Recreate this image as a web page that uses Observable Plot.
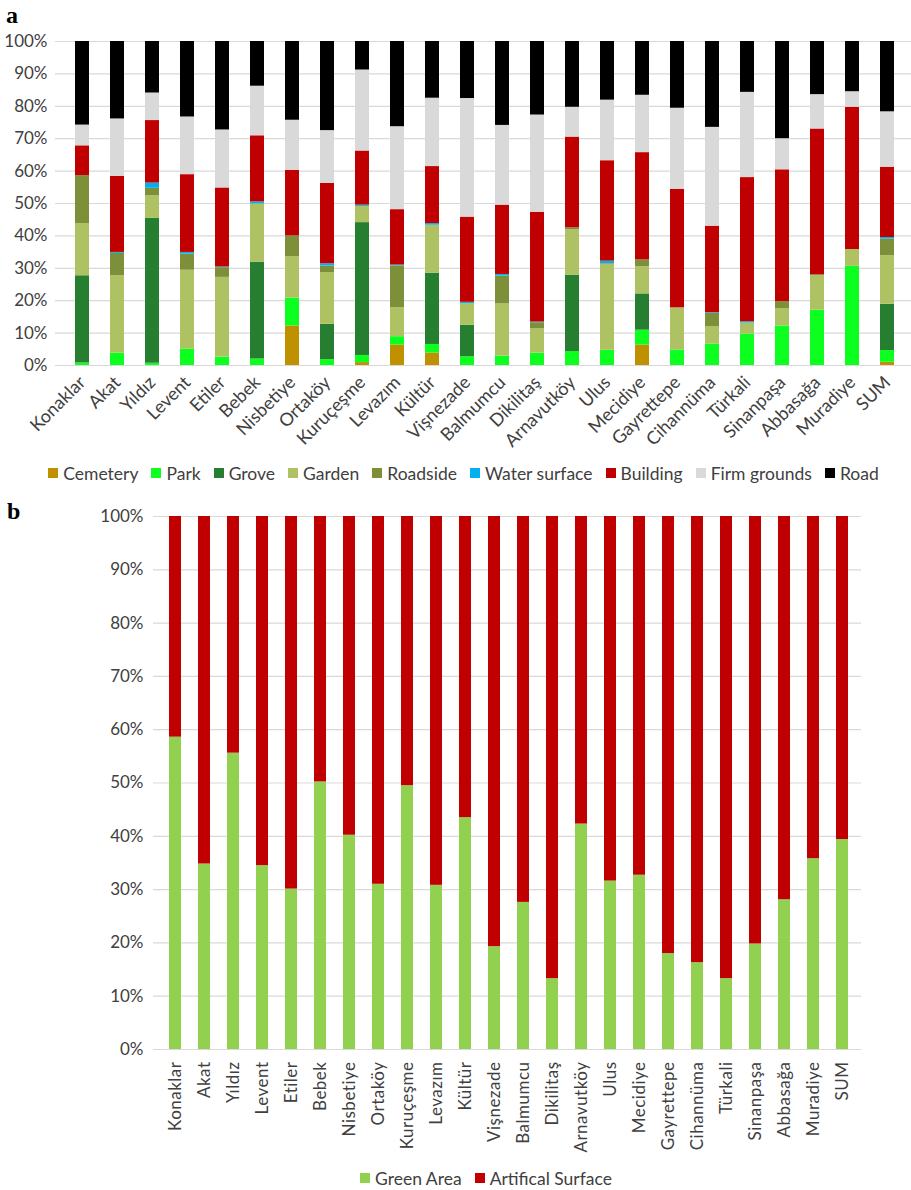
<!DOCTYPE html>
<html>
<head>
<meta charset="utf-8">
<script src="https://cdn.jsdelivr.net/npm/d3@7"></script>
<script src="https://cdn.jsdelivr.net/npm/@observablehq/plot@0.6"></script>
<style>
  html, body { margin: 0; padding: 0; background: #fff; }
  #page { position: relative; width: 911px; height: 1190px; font-family: Lato, "Liberation Sans", sans-serif; color: #404040; overflow: hidden; }
  .panel-label { position: absolute; font-family: "Liberation Serif", "DejaVu Serif", serif; font-weight: bold; font-size: 24px; color: #000; line-height: 1; }
  .legend { position: absolute; left: 0; display: flex; justify-content: center; align-items: center; font-size: 17.5px; color: #404040; white-space: nowrap; }
  .legend .item { display: flex; align-items: center; margin: 0 6.5px; }
  .legend .sw { width: 10px; height: 10px; margin-right: 5px; }
  .plotbox { position: absolute; left: 0; }
  .plotbox svg { overflow: visible; }
  #chartB .xlab text { letter-spacing: 0.5px; }
</style>
</head>
<body>
<div id="page">
  <div class="panel-label" style="left:6px; top:3px;">a</div>
  <div class="plotbox" id="chartA" style="top:0px;"></div>
  <div class="legend" id="legendA" style="top:463px; left:8px; width:911px; height:20px;"></div>
  <div class="panel-label" style="left:7px; top:499px;">b</div>
  <div class="plotbox" id="chartB" style="top:490px;"></div>
  <div class="legend" id="legendB" style="top:1168px; left:153px; width:666px; height:20px;"></div>
</div>
<script>
// ---- Data (percent of area) ----
const sites = ["Konaklar","Akat","Yıldız","Levent","Etiler","Bebek","Nisbetiye","Ortaköy","Kuruçeşme","Levazım","Kültür","Vişnezade","Balmumcu","Dikilitaş","Arnavutköy","Ulus","Mecidiye","Gayrettepe","Cihannüma","Türkali","Sinanpaşa","Abbasağa","Muradiye","SUM"];

const categories = ["Cemetery","Park","Grove","Garden","Roadside","Water surface","Building","Firm grounds","Road"];
const categoryColors = ["#BF9000","#0CFF1E","#267E30","#AFC263","#7E8F39","#00B0F0","#C00000","#D9D9D9","#000000"];

const cemetery     = [0,   0,   0,   0,   0,   0,   12.2,0,   0.9, 6.3, 3.8, 0,   0,   0,   0,   0,   6.3, 0,   0,   0,   0,   0,   0,   1.0];
const park         = [0.8, 3.8, 0.7, 5.1, 2.6, 2.0, 8.6, 1.8, 2.2, 2.6, 2.7, 2.7, 2.9, 3.8, 4.3, 4.7, 4.6, 4.8, 6.6, 9.7, 12.2,17.1,30.6,3.6];
const grove        = [26.9,0,   44.7,0,   0,   29.9,0,   10.9,41.0,0,   22.0,9.7, 0,   0,   23.6,0,   11.2,0,   0,   0,   0,   0,   0,   14.3];
const garden       = [16.1,23.9,7.0, 24.3,24.6,17.9,12.8,16.0,5.0, 8.9, 14.8,6.7, 16.1,7.5, 14.0,26.5,8.4, 13.0,5.4, 3.4, 5.4, 10.6,5.2, 15.0];
const roadside     = [14.8,6.9, 2.3, 5.0, 3.0, 0.1, 6.4, 2.0, 0,   12.9,0,   0,   8.6, 1.9, 0.6, 0.2, 2.1, 0,   4.1, 0,   2.1, 0.3, 0,   5.1];
const waterSurface = [0,   0.3, 1.6, 0.5, 0.2, 0.6, 0,   0.7, 0.4, 0.3, 0.5, 0.4, 0.5, 0.2, 0,   0.8, 0,   0,   0.2, 0.4, 0,   0,   0,   0.5];
const building     = [9.2, 23.5,19.3,24.0,24.4,20.4,20.2,24.8,16.7,17.1,17.6,26.3,21.4,33.9,28.0,31.0,33.1,36.6,26.7,44.5,40.7,45.0,43.9,21.7];
const firmGrounds  = [6.4, 17.7,8.5, 17.8,17.9,15.3,15.5,16.3,25.0,25.6,21.1,36.6,24.6,30.0,9.2, 18.7,17.7,25.0,30.5,26.3,9.6, 10.6,4.8, 17.1];
const road         = [25.8,23.9,15.9,23.3,27.3,13.8,24.3,27.5,8.8, 26.3,17.5,17.6,25.9,22.7,20.3,18.1,16.6,20.6,26.5,15.7,30.0,16.4,15.5,21.7];

const greenArea        = [58.6,34.8,55.6,34.5,30.1,50.2,40.2,31.0,49.5,30.8,43.5,19.3,27.6,13.3,42.3,31.6,32.7,18.0,16.3,13.3,19.8,28.1,35.8,39.4];
const artificalSurface = [41.4,65.2,44.4,65.5,69.9,49.8,59.8,69.0,50.5,69.2,56.5,80.7,72.4,86.7,57.7,68.4,67.3,82.0,83.7,86.7,80.2,71.9,64.2,60.6];

const classesB = ["Green Area","Artifical Surface"];
const colorsB = ["#92D050","#C00000"];

const yTicks = [0,0.1,0.2,0.3,0.4,0.5,0.6,0.7,0.8,0.9,1];
const pct = d3.format(".0%");

// ---- Panel a ----
const seriesA = [cemetery, park, grove, garden, roadside, waterSurface, building, firmGrounds, road];
const rowsA = [];
sites.forEach((s, i) => categories.forEach((c, k) => rowsA.push({site: s, cls: c, value: seriesA[k][i]})));

const chartA = Plot.plot({
  width: 911, height: 455,
  marginTop: 41, marginBottom: 90, marginLeft: 55, marginRight: 0,
  style: {fontFamily: "Lato, 'Liberation Sans', sans-serif", fontSize: "17px", color: "#404040", background: "transparent", overflow: "visible"},
  x: {domain: sites, range: [59.4, 910.3], paddingInner: 0.6, paddingOuter: 0.2, label: null},
  y: {domain: [0, 1], label: null},
  color: {domain: categories, range: categoryColors},
  marks: [
    Plot.gridY({ticks: yTicks, stroke: "#D9D9D9", strokeOpacity: 1, strokeWidth: 1.2}),
    Plot.barY(rowsA, {x: "site", y: "value", fill: "cls", offset: "normalize", order: categories}),
    Plot.axisY({ticks: yTicks, tickFormat: pct, tickSize: 0, tickPadding: 8, fontSize: 17, label: null}),
    Plot.axisX({tickRotate: -45, tickSize: 0, tickPadding: 14, fontSize: 18, label: null, textOverflow: null, lineWidth: Infinity})
  ]
});
document.getElementById("chartA").appendChild(chartA);

// ---- Panel b ----
const seriesB = [greenArea, artificalSurface];
const rowsB = [];
sites.forEach((s, i) => classesB.forEach((c, k) => rowsB.push({site: s, cls: c, value: seriesB[k][i]})));

const chartB = Plot.plot({
  width: 911, height: 670,
  marginTop: 26, marginBottom: 111, marginLeft: 153, marginRight: 50,
  style: {fontFamily: "Lato, 'Liberation Sans', sans-serif", fontSize: "17px", color: "#404040", background: "transparent", overflow: "visible"},
  x: {domain: sites, range: [158.1, 857.9], paddingInner: 0.59, paddingOuter: 0.2, label: null},
  y: {domain: [0, 1], label: null},
  color: {domain: classesB, range: colorsB},
  marks: [
    Plot.gridY({ticks: yTicks, stroke: "#D9D9D9", strokeOpacity: 1, strokeWidth: 1.2}),
    Plot.barY(rowsB, {x: "site", y: "value", fill: "cls", offset: "normalize", order: classesB}),
    Plot.axisY({ticks: yTicks, tickFormat: pct, tickSize: 0, tickPadding: 10, fontSize: 17, label: null}),
    Plot.axisX({tickRotate: -90, tickSize: 0, tickPadding: 12, fontSize: 17, label: null, className: "xlab", textOverflow: null, lineWidth: Infinity})
  ]
});
document.getElementById("chartB").appendChild(chartB);

// ---- Legends ----
function legend(el, names, colors) {
  names.forEach((n, i) => {
    const it = document.createElement("div");
    it.className = "item";
    const sw = document.createElement("div");
    sw.className = "sw";
    sw.style.background = colors[i];
    const tx = document.createElement("span");
    tx.textContent = n;
    it.appendChild(sw); it.appendChild(tx);
    el.appendChild(it);
  });
}
legend(document.getElementById("legendA"), categories, categoryColors);
legend(document.getElementById("legendB"), classesB, colorsB);
</script>
</body>
</html>
